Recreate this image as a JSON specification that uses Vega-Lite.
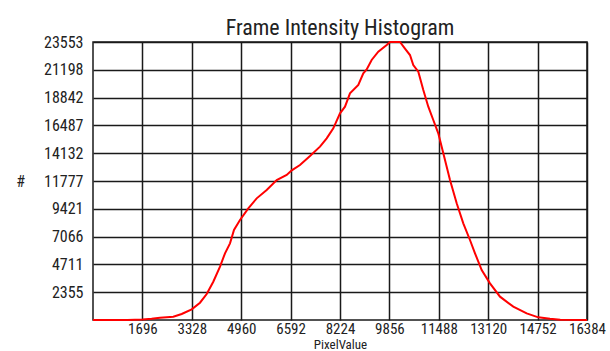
{
  "$schema": "https://vega.github.io/schema/vega-lite/v6.json",
  "autosize": "none",
  "width": 494,
  "height": 278,
  "padding": {"left": 93, "top": 42, "right": 23, "bottom": 31},
  "background": "white",
  "title": {"text": "Frame Intensity Histogram", "font": "Liberation Sans Narrow, Arial Narrow, Roboto Condensed, DejaVu Sans Condensed", "fontSize": 22, "fontWeight": "normal", "color": "#222", "anchor": "middle", "offset": -6},
  "config": {
    "view": {"stroke": "#1a1a1a", "strokeWidth": 1.5},
    "axis": {"labelFont": "Liberation Sans Narrow, Arial Narrow, Roboto Condensed, DejaVu Sans Condensed", "labelFontSize": 16, "labelColor": "#222", "labelOverlap": false, "labelFlush": false, "titleFont": "Liberation Sans Narrow, Arial Narrow, Roboto Condensed, DejaVu Sans Condensed", "titleFontWeight": "normal", "titleColor": "#222", "ticks": false, "domain": false, "grid": true, "gridColor": "#1a1a1a", "gridOpacity": 1, "gridWidth": 1.5}
  },
  "data": {"values": [
    {"x": 64, "y": 0}, {"x": 1200, "y": 0}, {"x": 1700, "y": 40}, {"x": 2000, "y": 100},
    {"x": 2277, "y": 195}, {"x": 2717, "y": 280}, {"x": 2994, "y": 508}, {"x": 3325, "y": 906},
    {"x": 3599, "y": 1466}, {"x": 3820, "y": 2203}, {"x": 4038, "y": 3245}, {"x": 4260, "y": 4520},
    {"x": 4425, "y": 5650}, {"x": 4590, "y": 6495}, {"x": 4722, "y": 7625}, {"x": 4920, "y": 8472},
    {"x": 5195, "y": 9460}, {"x": 5472, "y": 10307}, {"x": 5802, "y": 11014}, {"x": 6133, "y": 11860},
    {"x": 6463, "y": 12285}, {"x": 6630, "y": 12680}, {"x": 6902, "y": 13132}, {"x": 7233, "y": 13894},
    {"x": 7563, "y": 14690}, {"x": 7784, "y": 15390}, {"x": 8003, "y": 16240}, {"x": 8224, "y": 17510},
    {"x": 8389, "y": 18070}, {"x": 8554, "y": 19200}, {"x": 8829, "y": 19910}, {"x": 8994, "y": 20900},
    {"x": 9105, "y": 21230}, {"x": 9270, "y": 22030}, {"x": 9489, "y": 22730}, {"x": 9767, "y": 23300},
    {"x": 9876, "y": 23553}, {"x": 10206, "y": 23553}, {"x": 10371, "y": 23000}, {"x": 10536, "y": 22450},
    {"x": 10645, "y": 21600}, {"x": 10811, "y": 21040}, {"x": 10976, "y": 19490}, {"x": 11141, "y": 18070},
    {"x": 11306, "y": 16945}, {"x": 11471, "y": 15815}, {"x": 11637, "y": 14120}, {"x": 11858, "y": 11860},
    {"x": 12079, "y": 9885}, {"x": 12297, "y": 8190}, {"x": 12518, "y": 6778}, {"x": 12684, "y": 5650},
    {"x": 12905, "y": 4236}, {"x": 13179, "y": 3107}, {"x": 13510, "y": 1977}, {"x": 13949, "y": 1130},
    {"x": 14392, "y": 565}, {"x": 14775, "y": 225}, {"x": 15161, "y": 100}, {"x": 15500, "y": 30},
    {"x": 16384, "y": 0}
  ]},
  "mark": {"type": "line", "color": "#ff0000", "strokeWidth": 2, "clip": false},
  "encoding": {
    "x": {"field": "x", "type": "quantitative", "scale": {"domain": [64, 16384], "nice": false, "zero": false},
      "axis": {"values": [1696, 3328, 4960, 6592, 8224, 9856, 11488, 13120, 14752, 16384], "format": "d", "labelFontSize": 15, "labelPadding": 1, "title": "PixelValue", "titleFontSize": 13, "titlePadding": 2}},
    "y": {"field": "y", "type": "quantitative", "scale": {"domain": [0, 23553], "nice": false},
      "axis": {"values": [2355.3, 4710.6, 7065.9, 9421.2, 11776.5, 14131.8, 16487.1, 18842.4, 21197.7, 23553], "format": ".0f", "labelPadding": 10, "title": "#", "titleFontSize": 16, "titleAngle": 0, "titleX": -73, "titleY": 139, "titleAlign": "center", "titleBaseline": "middle"}}
  }
}
